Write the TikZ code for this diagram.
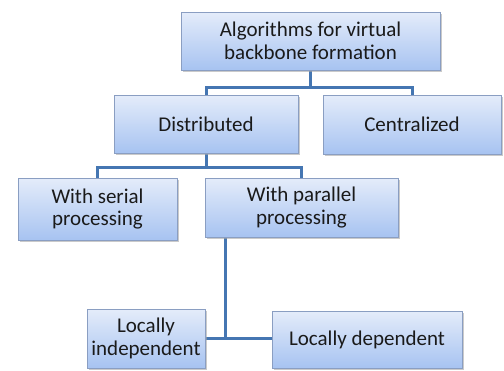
\documentclass[tikz,border=0pt]{standalone}
\usepackage{fontspec}
\setmainfont{Carlito}
\usetikzlibrary{shadows,backgrounds}
\definecolor{boxtop}{HTML}{E4ECFA}
\definecolor{boxbot}{HTML}{A7C3F1}
\definecolor{boxedge}{HTML}{8A9EC2}
\definecolor{linkc}{HTML}{4576B2}
\definecolor{txt}{HTML}{1A1A1A}
\tikzset{
  box/.style={draw=boxedge, line width=0.8pt, top color=boxtop, bottom color=boxbot,
    drop shadow={shadow xshift=1.5pt, shadow yshift=-2pt, fill=black!35, opacity=0.6},
    align=center, text=txt, font=\fontsize{21}{22.5}\selectfont, inner sep=0pt},
  link/.style={draw=linkc, line width=3pt}
}
\begin{document}
\begin{tikzpicture}[x=1pt,y=-1pt]
\useasboundingbox (0,0) rectangle (504,370);
\node[box, minimum width=259pt, minimum height=58pt] (top) at (310.5,41) {Algorithms for virtual\\backbone formation};
\node[box, minimum width=184pt, minimum height=58pt] (dist) at (206,124) {Distributed};
\node[box, minimum width=178pt, minimum height=59pt] (cent) at (412,124.5) {Centralized};
\node[box, minimum width=159pt, minimum height=62pt] (serial) at (97.5,209) {With serial\\processing};
\node[box, minimum width=193pt, minimum height=59pt] (par) at (301.5,207.5) {With parallel\\processing};
\node[box, minimum width=118pt, minimum height=59pt] (lind) at (146,338.5) {Locally\\independent};
\node[box, minimum width=190pt, minimum height=57pt] (ldep) at (367,339.5) {Locally dependent};
\coordinate (j1) at (225,338);
\begin{scope}[on background layer]
\draw[link] (top.south) -- ++(0,17) -| (dist.north);
\draw[link] (top.south) -- ++(0,17) -| (cent.north);
\draw[link] (dist.south) -- ++(0,14) -| (serial.north);
\draw[link] (dist.south) -- ++(0,14) -| (par.north);
\draw[link] (par.south -| j1) -- (j1);
\draw[link] (lind.east |- j1) -- (ldep.west |- j1);
\end{scope}
\end{tikzpicture}
\end{document}
